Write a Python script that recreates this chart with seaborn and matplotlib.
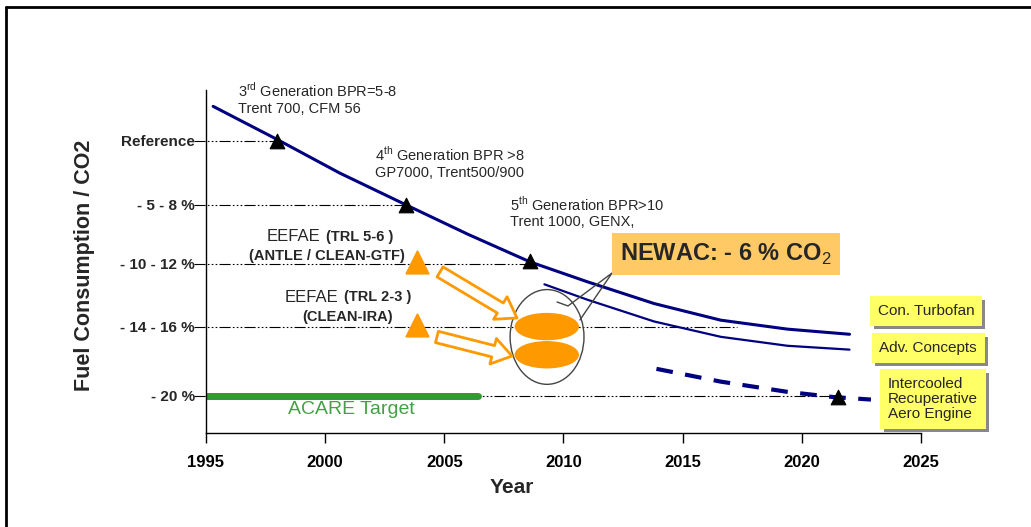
import seaborn as sns
import matplotlib.pyplot as plt
import matplotlib.patheffects as pe
from matplotlib.patches import Ellipse
from matplotlib.lines import Line2D

# --- data ---
level_labels = ["Reference", "- 5 - 8 %", "- 10 - 12 %", "- 14 - 16 %", "- 20 %"]
level_pos = [0.0, -5.0, -9.6, -14.5, -19.9]
level_end = [1998.0, 2003.4, 2008.6, 2017.3, 2021.5]

year_ticks = [1995, 2000, 2005, 2010, 2015, 2020, 2025]

turbofan_year = [1995.3, 1998.0, 2000.6, 2003.4, 2006.0, 2008.6, 2011.0, 2013.8, 2016.6, 2019.4, 2022.0]
turbofan_val = [2.7, 0.1, -2.5, -5.0, -7.3, -9.45, -11.0, -12.7, -14.0, -14.7, -15.1]

adv_year = [2009.2, 2011.0, 2013.8, 2016.6, 2019.4, 2022.0]
adv_val = [-11.2, -12.4, -14.1, -15.3, -16.0, -16.3]

icr_year = [2013.9, 2016.6, 2019.4, 2021.3, 2022.9]
icr_val = [-17.8, -18.8, -19.6, -20.0, -20.2]

milestone_year = [1998.0, 2003.4, 2008.6, 2021.5]
milestone_val = [0.0, -5.0, -9.4, -20.0]

eefae_year = [2003.85, 2003.85]
eefae_val = [-9.45, -14.4]

acare_year = [1995.0, 2006.4]
acare_val = [-19.9, -19.9]

newac_year = [2009.3, 2009.3]
newac_val = [-14.5, -16.7]

NAVY = "#000080"
ORANGE = "#FF9900"
GREEN = "#339933"

sns.set_style("white")
plt.rcParams["font.family"] = ["Liberation Sans", "DejaVu Sans"]
plt.rcParams["mathtext.fontset"] = "custom"
plt.rcParams["mathtext.rm"] = "Liberation Sans"

fig = plt.figure(figsize=(10.31, 5.27), dpi=100)
ax = fig.add_axes([0.1998, 0.1784, 0.6935, 0.6509])

# slide frame
fig.add_artist(Line2D([0.006, 0.006], [0, 0.987], transform=fig.transFigure, color="black", lw=2))
fig.add_artist(Line2D([0.006, 1], [0.987, 0.987], transform=fig.transFigure, color="black", lw=2))

# guide lines for each level
for y, x_end in zip(level_pos, level_end):
    ax.plot([1994.5, x_end], [y, y], color="black", lw=0.8,
            dashes=[10, 2, 1.5, 2, 1.5, 2, 1.5, 2], clip_on=False, zorder=1)

# ACARE target
sns.lineplot(x=acare_year, y=acare_val, ax=ax, color=GREEN, lw=5, zorder=2)
ax.text(2001.1, -21.0, "ACARE Target", color="#44A044", fontsize=14,
        ha="center", va="center")

# curves
sns.lineplot(x=turbofan_year, y=turbofan_val, ax=ax, color=NAVY, lw=2.2, zorder=3)
sns.lineplot(x=adv_year, y=adv_val, ax=ax, color=NAVY, lw=1.6, zorder=3)
sns.lineplot(x=icr_year, y=icr_val, ax=ax, color=NAVY, lw=3, zorder=3)
ax.lines[-1].set_dashes([4, 3])

sns.scatterplot(x=milestone_year, y=milestone_val, ax=ax, marker="^", s=110,
                color="black", edgecolor="black", zorder=5)
sns.scatterplot(x=eefae_year, y=eefae_val, ax=ax, marker="^", s=260,
                color=ORANGE, edgecolor=ORANGE, zorder=5)

# NEWAC bubble
ax.add_patch(Ellipse((2009.31, -15.31), 3.1, 7.4, fc="none", ec="#444444", lw=1, zorder=4))
for y in newac_val:
    ax.add_patch(Ellipse((newac_year[0], y), 2.64, 2.03, fc=ORANGE, ec=ORANGE, zorder=5))
ax.plot([2009.73, 2010.19, 2012.04, 2010.69], [-12.58, -12.89, -10.31, -13.98],
        color="#444444", lw=1, zorder=4)

# hollow arrows
for (x0, y0), (x1, y1) in [((2004.82, -10.23), (2008.05, -13.83)),
                           ((2004.69, -15.31), (2007.84, -16.8))]:
    ax.annotate("", xy=(x1, y1), xytext=(x0, y0),
                arrowprops=dict(arrowstyle="simple,head_length=1.0,head_width=1.35,tail_width=0.6",
                                mutation_scale=14, fc="white", ec=ORANGE, lw=2,
                                shrinkA=0, shrinkB=0), zorder=4)

ax.text(2016.8, -8.83, "NEWAC: - 6 % CO$_2$", fontsize=17, fontweight="bold",
        ha="center", va="center",
        bbox=dict(boxstyle="square,pad=0.35", fc="#FFC966", ec="none"), zorder=6)

# generation labels
ax.text(1996.34, 4.7, "3$^{\\mathregular{rd}}$ Generation BPR=5-8\nTrent 700, CFM 56",
        fontsize=10.5, va="top", ha="left", linespacing=1.2)
ax.text(2002.09, -0.3, "4$^{\\mathregular{th}}$ Generation BPR >8\nGP7000, Trent500/900",
        fontsize=10.5, va="top", ha="left", linespacing=1.2)
ax.text(2007.76, -4.2, "5$^{\\mathregular{th}}$ Generation BPR>10\nTrent 1000, GENX,",
        fontsize=10.5, va="top", ha="left", linespacing=1.2)

# EEFAE labels
ax.text(1997.56, -7.5, "EEFAE", fontsize=12, ha="left", va="center")
ax.text(2000.03, -7.5, "(TRL 5-6 )", fontsize=10.5, fontweight="bold", ha="left", va="center")
ax.text(2000.08, -8.98, "(ANTLE / CLEAN-GTF)", fontsize=10.5, fontweight="bold", ha="center", va="center")
ax.text(1998.31, -12.19, "EEFAE", fontsize=12, ha="left", va="center")
ax.text(2000.80, -12.19, "(TRL 2-3 )", fontsize=10.5, fontweight="bold", ha="left", va="center")
ax.text(2000.92, -13.75, "(CLEAN-IRA)", fontsize=10.5, fontweight="bold", ha="center", va="center")

# yellow legend boxes
shadow = [pe.withSimplePatchShadow(offset=(2.5, -2.5), shadow_rgbFace="#888888", alpha=1)]
for x, y, label in [(2025.21, -13.28, "Con. Turbofan"),
                    (2025.3, -16.17, "Adv. Concepts"),
                    (2025.5, -20.16, "Intercooled\nRecuperative\nAero Engine")]:
    t = ax.text(x, y, label, fontsize=11, ha="center", va="center", multialignment="left",
                linespacing=1.1, clip_on=False, zorder=6,
                bbox=dict(boxstyle="square,pad=0.5", fc="#FFFF66", ec="none"))
    t.get_bbox_patch().set_path_effects(shadow)

# axes styling
ax.set_xlim(1995, 2025)
ax.set_ylim(-22.81, 3.98)
ax.set_xticks(year_ticks)
ax.set_xticklabels([str(y) for y in year_ticks], fontsize=12, fontweight="bold")
ax.set_yticks(level_pos)
ax.set_yticklabels(level_labels, fontsize=11, fontweight="bold")
ax.tick_params(axis="x", direction="out", length=7, width=1, pad=9, bottom=True, colors="black")
ax.tick_params(axis="y", length=0, pad=8)
for s in ["top", "right"]:
    ax.spines[s].set_visible(False)
for s in ["left", "bottom"]:
    ax.spines[s].set_color("black")
    ax.spines[s].set_linewidth(1)

ax.set_xlabel("Year", fontsize=15, fontweight="bold")
ax.xaxis.set_label_coords(0.427, -0.13)
ax.set_ylabel("Fuel Consumption / CO2", fontsize=15.5, fontweight="bold")
ax.yaxis.set_label_coords(-0.155, 0.49)

plt.savefig("out.png", dpi=100)
